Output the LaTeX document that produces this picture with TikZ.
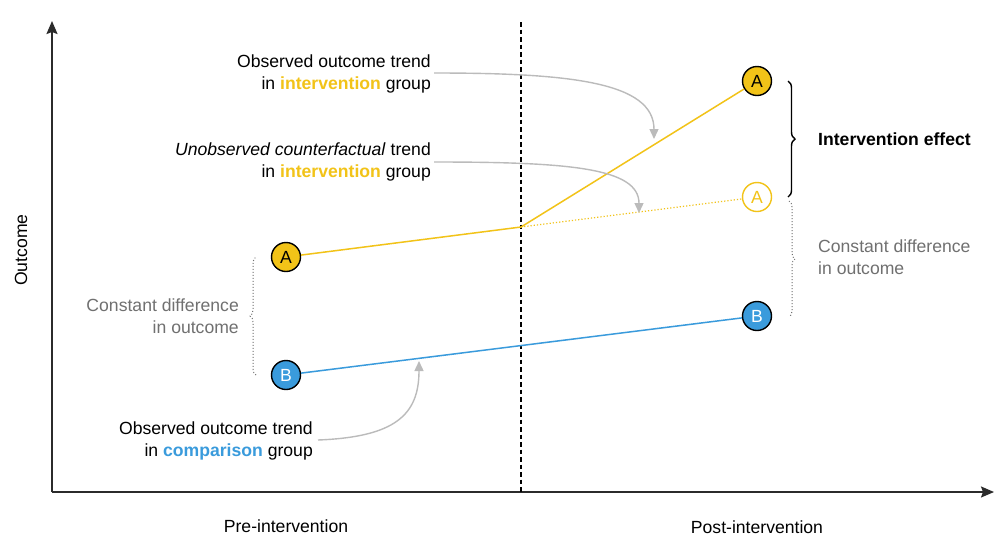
\documentclass[tikz,border=0pt]{standalone}
\usepackage{fontspec}
\setmainfont{Liberation Sans}
\usetikzlibrary{arrows.meta,decorations.pathreplacing,calc}
\definecolor{ayel}{HTML}{F2C318}
\definecolor{bblue}{HTML}{3A9BDC}
\definecolor{agray}{HTML}{BBBBBB}
\definecolor{tgray}{HTML}{707070}
\definecolor{axisc}{HTML}{2B2B2B}
\begin{document}
\begin{tikzpicture}[x=1pt,y=-1pt,
  font=\fontsize{17.6}{22}\selectfont,
  pt/.style={circle, draw=black, line width=1.4pt, minimum size=29pt, inner sep=0pt},
  axisline/.style={draw=axisc, line width=1.7pt, -{Stealth[length=13pt,width=11pt,inset=2pt]}},
  trend/.style={line width=1.5pt},
  pointer/.style={draw=agray, line width=1.4pt, -{Triangle[length=10pt,width=9pt]}},
  lbl/.style={inner sep=0pt, align=right, anchor=east},
  graybrace/.style={draw=tgray, line width=1pt, dotted, decorate, decoration={brace, amplitude=6pt}},
  blackbrace/.style={draw=black, line width=1.4pt, decorate, decoration={brace, amplitude=7pt}}]
\useasboundingbox[fill=white] (0,0) rectangle (1004,550);

% axes
\coordinate (o) at (52,492);
\coordinate (ytop) at (52,21);
\coordinate (xend) at (994,492);
\draw[axisline] (o) -- (ytop);
\draw[axisline] (o) -- (xend);
\coordinate (dtop) at (521,22);
\coordinate (dbot) at (521,492);
\draw[black, line width=1.5pt, dash pattern=on 4.5pt off 3pt] (dtop) -- (dbot);

% points
\node[pt, fill=ayel] (apre) at (286,257) {A};
\node[pt, fill=bblue, text=white] (bpre) at (286,375) {B};
\node[pt, fill=ayel] (apost) at (757,81) {A};
\node[pt, fill=white, draw=ayel] (acf) at (757,197) {\textcolor{ayel}{A}};
\node[pt, fill=bblue, text=white] (bpost) at (757,316) {B};
\coordinate (k) at (521,227);

% trends
\draw[trend, ayel] (apre) -- (k);
\draw[trend, ayel] (k) -- (apost);
\draw[ayel, line width=1.2pt, dotted] (k) -- (acf);
\draw[trend, bblue] (bpre) -- (bpost);

% labels
\node[lbl] (t1) at (431,73.5) {Observed outcome trend\\in \textcolor{ayel}{\textbf{intervention}} group};
\node[lbl] (t2) at (431,162) {\textit{Unobserved counterfactual} trend\\in \textcolor{ayel}{\textbf{intervention}} group};
\node[lbl] (t3) at (313,441) {Observed outcome trend\\in \textcolor{bblue}{\textbf{comparison}} group};
\node[lbl, text=tgray] (cl) at (239,316) {Constant difference\\in outcome};
\node[inner sep=0pt, anchor=west, align=left, text=tgray] (cr) at (818,257) {Constant difference\\in outcome};
\node[inner sep=0pt, anchor=west] (ie) at (818,139) {\textbf{Intervention effect}};
\node (pre) at (286,526) {Pre-intervention};
\node (post) at (757,527) {Post-intervention};
\node[rotate=90] (yl) at (21,250) {Outcome};

% pointers
\coordinate (s1) at (434,73);
\coordinate (e1) at (654,139);
\coordinate (s2) at (434,162);
\coordinate (e2) at (639,213);
\coordinate (s3) at (318,440);
\coordinate (e3) at (419,361);
\draw[pointer] (s1) .. controls (570,73) and (654,82) .. (e1);
\draw[pointer] (s2) .. controls (570,162) and (639,168) .. (e2);
\draw[pointer] (s3) .. controls (395,437) and (419,415) .. (e3);

% braces
\coordinate (b1t) at (788,81);
\coordinate (b1b) at (788,197);
\draw[blackbrace] (b1t) -- (b1b);
\coordinate (b2t) at (789,201);
\coordinate (b2b) at (789,317);
\draw[graybrace] (b2t) -- (b2b);
\coordinate (b3b) at (256,375);
\coordinate (b3t) at (256,257);
\draw[graybrace] (b3b) -- (b3t);
\end{tikzpicture}
\end{document}
